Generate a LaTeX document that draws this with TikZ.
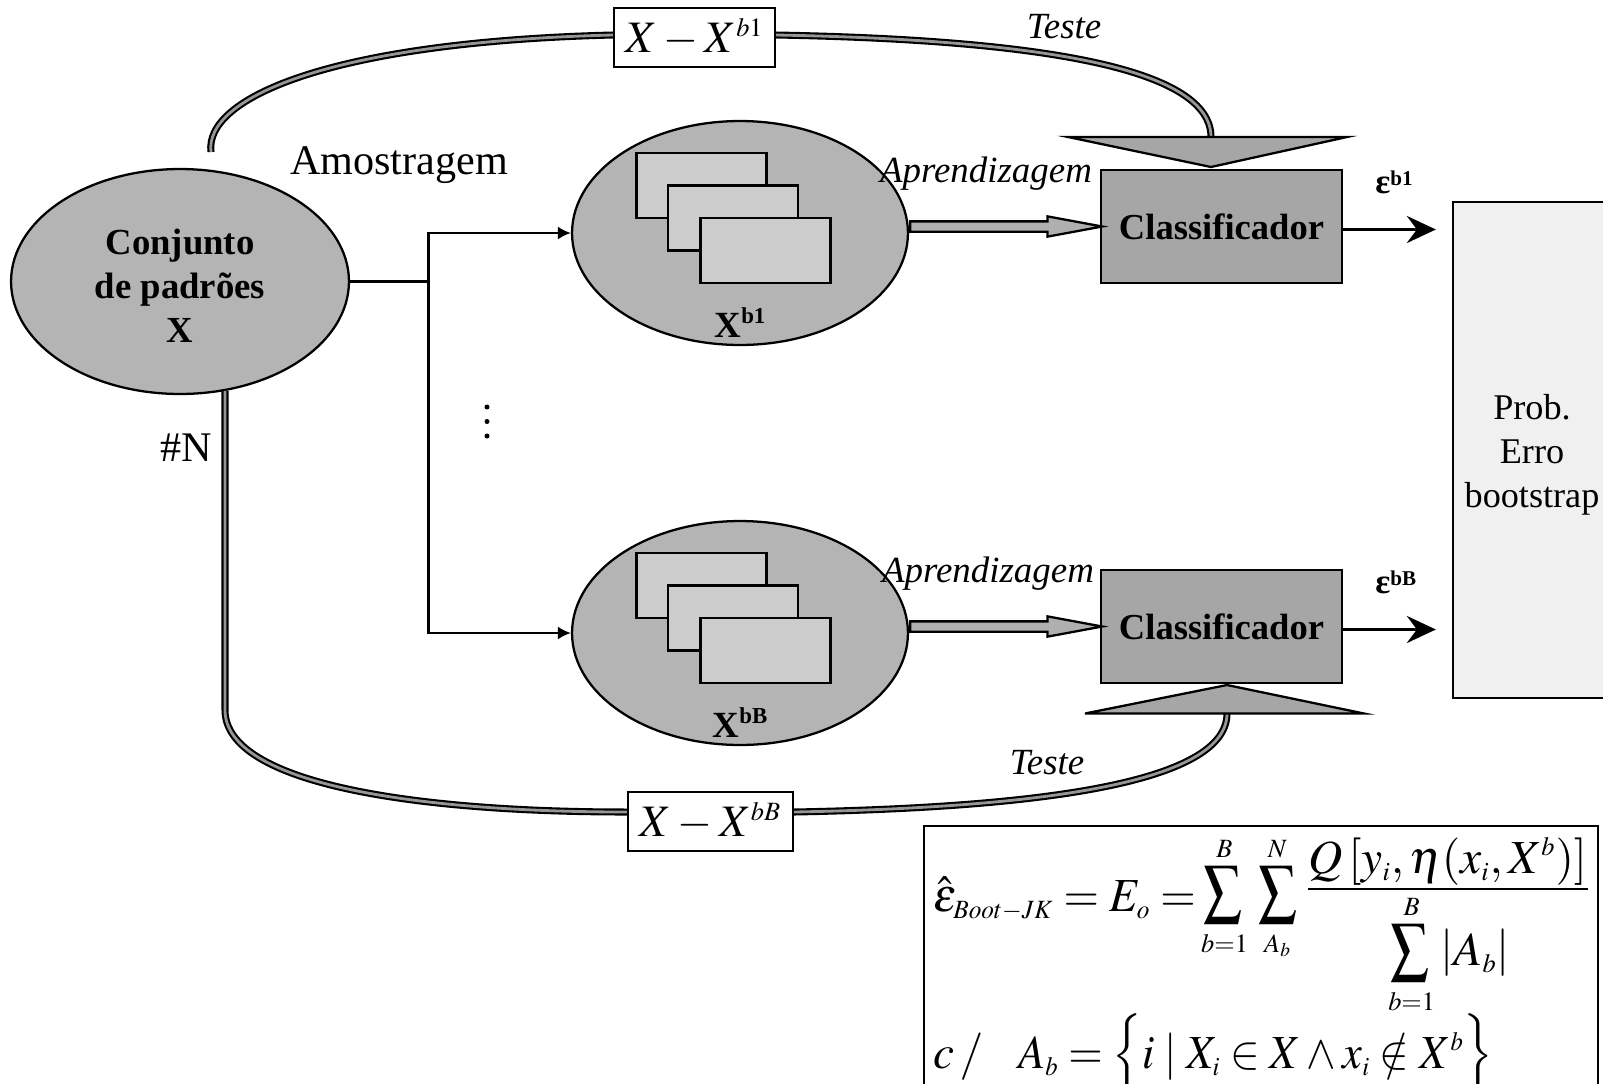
\documentclass[tikz,border=0pt]{standalone}
\usepackage{mathptmx}
\usepackage[no-math]{fontspec}
\setmainfont{Liberation Serif}
\usetikzlibrary{shapes.geometric,shapes.arrows,arrows.meta,calc}
\DeclareMathSizes{27}{27}{15}{11}
\DeclareMathSizes{25.6}{25.6}{15}{11}

\definecolor{ellgray}{RGB}{180,180,180}
\definecolor{cardgray}{RGB}{204,204,204}
\definecolor{boxgray}{RGB}{166,166,166}
\definecolor{tubegray}{RGB}{150,150,150}
\definecolor{probgray}{RGB}{240,240,240}
\definecolor{arrowgray}{RGB}{175,175,175}

% narrow summation sign in the style of the equation editor
\newcommand\slimsum{\mathop{\scalebox{0.8}[0.98]{$\displaystyle\sum$}}\limits}

\begin{document}
\begin{tikzpicture}[x=0.02cm,y=-0.02cm,
  thinline/.style={line width=1.3pt},
  ell/.style={ellipse, draw, thinline, fill=ellgray, inner sep=0pt},
  card/.style={rectangle, draw, thinline, fill=cardgray, minimum width=2.6cm, minimum height=1.3cm, inner sep=0pt},
  clf/.style={rectangle, draw, thinline, fill=boxgray, minimum width=4.82cm, minimum height=2.26cm, inner sep=0pt, font=\fontsize{20.8}{25}\selectfont\bfseries},
  setbox/.style={rectangle, draw, thinline, fill=white, minimum height=1.18cm, inner sep=0pt, font=\fontsize{25.6}{30}\selectfont},
  tube/.style={draw=black, line width=1.2pt, double=tubegray, double distance=1.6pt},
  tri/.style={draw, thinline, fill=boxgray, line join=miter},
  fat/.style={single arrow, draw, thinline, fill=arrowgray, minimum height=3.84cm, minimum width=0pt, inner sep=0.08cm, single arrow head extend=0.1cm, single arrow tip angle=21, anchor=tail},
  feed/.style={thinline, -{Latex[length=0.26cm,width=0.26cm]}},
  err/.style={line width=2.2pt, -{Stealth[length=0.58cm,width=0.54cm,inset=0.2cm]}, shorten >=0.32cm},
  lbl/.style={font=\fontsize{24}{28}\selectfont},
  itl/.style={font=\fontsize{21}{25}\selectfont\itshape},
  subset/.style={font=\fontsize{21}{25}\selectfont\bfseries},
  errlbl/.style={font=\fontsize{20}{22}\selectfont\bfseries, inner sep=0pt},
  eq/.style={inner sep=0pt, font=\fontsize{27}{32}\selectfont}
]
\useasboundingbox (0,0) rectangle (1603,1083);

% pattern set
\node[ell, minimum width=6.76cm, minimum height=4.5cm] (set) at (180,281.5) {};
\node[align=center, font=\fontsize{20.9}{25}\selectfont\bfseries] (setlbl) at (180,286) {Conjunto\\de padrões\\X};

% bootstrap samples
\node[ell, minimum width=6.72cm, minimum height=4.48cm] (s1) at (740,233) {};
\node[card] (s1a) at (701.5,185.5) {};
\node[card] (s1b) at (733,218) {};
\node[card] (s1c) at (765.5,250.5) {};
\node[subset, anchor=base] (s1lbl) at (740,337) {X{\fontsize{13}{13}\selectfont\raisebox{7.5pt}{b1}}};

\node[ell, minimum width=6.72cm, minimum height=4.48cm] (sB) at (740,633) {};
\node[card] (sBa) at (701.5,585.5) {};
\node[card] (sBb) at (733,618) {};
\node[card] (sBc) at (765.5,650.5) {};
\node[subset, anchor=base] (sBlbl) at (740,737) {X{\fontsize{13}{13}\selectfont\raisebox{7.5pt}{bB}}};

% classifiers and error estimate
\node[clf] (c1) at (1221.5,226.5) {Classificador};
\node[clf] (cB) at (1221.5,626.5) {Classificador};
\node[draw, thinline, fill=probgray, minimum width=3.08cm, minimum height=9.92cm] (prob) at (1530,450) {};
\node[align=center, font=\fontsize{20.6}{25}\selectfont] (problbl) at (1532,455) {Prob.\\Erro\\bootstrap};

% test-set boxes
\node[setbox, minimum width=3.22cm] (tb1) at (694.5,37.5) {$X - X^{b1}$};
\node[setbox, minimum width=3.3cm] (tb2) at (710.5,821.5) {$X - X^{bB}$};

% sampling branches
\coordinate (bj) at (428.6,281.5);
\draw[thinline] (set.east) -- (bj);
\draw[feed] (bj) |- (s1.west);
\draw[feed] (bj) |- (sB.west);
\foreach \yy in {407,421.5,436} \fill (487,\yy) circle[radius=0.05cm];

% learning arrows
\node[fat] (a1) at (s1.east |- c1.west) {};
\node[fat] (aB) at (sB.east |- cB.west) {};

% test paths
\coordinate (tstart) at (211,152);
\coordinate (tri1) at (1211,137);
\draw[tube] (tstart) .. controls (204,98) and (330,42) .. ([yshift=0.05cm]tb1.west);
\draw[tube] ([yshift=0.05cm]tb1.east) .. controls (1050,40) and (1211,70) .. (tri1);
\filldraw[tri] (1068,137) -- (1347,137) -- (1211,167) -- cycle;

\coordinate (bend) at (225,710);
\coordinate (triB) at (1227,713.5);
\draw[tube] (bend |- set.-67.5) -- (bend) .. controls (225,785) and (420,812) .. ([yshift=0.19cm]tb2.west);
\draw[tube] ([yshift=0.19cm]tb2.east) .. controls (1000,808) and (1227,790) .. (triB);
\filldraw[tri] (1085,713.5) -- (1364,713.5) -- (1227,685) -- cycle;

% error outputs
\path ([yshift=-0.06cm]c1.east) coordinate (e1s);
\path ([yshift=-0.06cm]cB.east) coordinate (eBs);
\draw[err] (e1s) -- (e1s -| prob.west);
\draw[err] (eBs) -- (eBs -| prob.west);
\node[errlbl, anchor=base west] (e1) at (1375,193) {ε\raisebox{4pt}{\fontsize{12}{14}\selectfont b1}};
\node[errlbl, anchor=base west] (eB) at (1375,593) {ε\raisebox{4pt}{\fontsize{12}{14}\selectfont bB}};

% labels
\node[lbl, anchor=base] (amo) at (399,174) {Amostragem};
\node[lbl, anchor=base] (nn) at (186,461) {\#N};
\node[itl, anchor=base] (ap1) at (986,182) {Aprendizagem};
\node[itl, anchor=base] (apB) at (988,582) {Aprendizagem};
\node[itl, anchor=base] (te1) at (1064,38) {Teste};
\node[itl, anchor=base] (teB) at (1047,774) {Teste};

% estimator formula
\node[draw, thinline, fill=white, anchor=north west, minimum width=13.48cm, minimum height=5.8cm, inner sep=0pt] (fbox) at (923,825) {};
\node[eq, anchor=base west] (f1a) at (933,911.7) {\scalebox{0.96}[1]{$\hat{\varepsilon}_{Boot-JK} = E_o =$}};
\node[eq, anchor=base] (f1b) at (1224.5,907) {$\slimsum_{b=1}^{B}$};
\node[eq, anchor=base] (f1c) at (1277.5,907) {$\slimsum_{A_b}^{N}$};
\node[eq, anchor=base] (f1num) at (1448,873) {$Q\left[y_i,\eta(x_i,X^{b})\right]$};
\draw[line width=1.2pt] (1308,889) -- (1588,889);
\node[eq, anchor=base] (f1den) at (1449,965) {$\slimsum_{b=1}^{B}\left|A_b\right|$};
\node[eq, anchor=base west] (f2a) at (933,1068) {$c\,/$};
\node[eq, anchor=base west] (f2b) at (1018,1068) {\scalebox{0.935}[1]{$A_b = \Bigl\{ i \mid X_i\in X\wedge x_i\notin X^{b} \Bigr\}$}};
\end{tikzpicture}
\end{document}
